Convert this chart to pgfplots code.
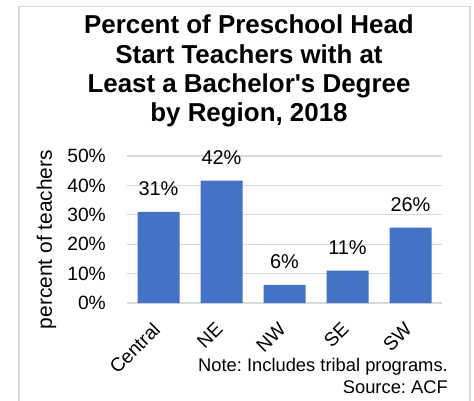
\documentclass[border=0pt]{standalone}
\usepackage{fontspec}
\setmainfont{Liberation Sans}[Ligatures=TeXOff]
\usepackage{pgfplots}
\pgfplotsset{compat=1.18}
\definecolor{barblue}{HTML}{4472C4}
\definecolor{gridgray}{HTML}{D9D9D9}
\frenchspacing
\begin{document}
\begin{tikzpicture}[x=1bp,y=1bp]
% axis box origin sits at (0,0); everything else is drawn relative to image pixels via the shifted scope
\begin{axis}[
  scale only axis, width=315bp, height=147bp,
  xmin=-0.5, xmax=4.5, ymin=0, ymax=50,
  xtick={0,1,2,3,4},
  xticklabels={Central,NE,NW,SE,SW},
  ytick={0,10,20,30,40,50},
  yticklabels={0\%,10\%,20\%,30\%,40\%,50\%},
  /pgf/number format/assume math mode=true,
  axis line style={draw=none},
  major tick length=0pt,
  ymajorgrids, grid style={gridgray, line width=1.2bp},
  ticklabel style={font=\fontsize{19.3}{22}\selectfont},
  yticklabel style={anchor=east, inner sep=0pt, xshift=-21bp},
  xticklabel style={xshift=-7bp, yshift=-18bp, rotate=45, anchor=north east, inner sep=0pt},
  nodes near coords={\pgfmathprintnumber[fixed,precision=0]{\pgfplotspointmeta}\%},
  nodes near coords style={anchor=south, inner sep=0pt, yshift=16bp, font=\fontsize{20}{23}\selectfont, black},
  clip=false,
]
\addplot[ybar, bar width=42bp, fill=barblue, draw=none] coordinates {
  (0,31.0) (1,41.6) (2,6.2) (3,11.0) (4,25.6)
};
\end{axis}

\begin{scope}[shift={(-127,-97)}]
% outer chart frame (bottom edge is cut off in the reference)
\draw[gridgray, line width=1.5bp] (19,-10) -- (19,393.3) -- (470,393.3) -- (470,-10);

% title
\begin{scope}[every node/.style={anchor=base, inner sep=0pt, font=\fontsize{26}{29}\selectfont\bfseries}]
\node at (249,366.7) {Percent of Preschool Head};
\node at (249,337) {Start Teachers with at};
\node at (249,307.5) {Least a Bachelor's Degree};
\node at (249,278.5) {by Region, 2018};
\end{scope}

\node[rotate=90, font=\fontsize{21}{24}\selectfont] at (46.5,160.5) {percent of teachers};
\node[anchor=base east, inner sep=0pt, font=\fontsize{18.4}{21}\selectfont] at (448,28.3) {Note: Includes tribal programs.};
\node[anchor=base east, inner sep=0pt, font=\fontsize{18.4}{21}\selectfont] at (448,6.7) {Source: ACF};

\pgfresetboundingbox
\useasboundingbox (0,0) rectangle (474,400);
\end{scope}
\end{tikzpicture}
\end{document}
